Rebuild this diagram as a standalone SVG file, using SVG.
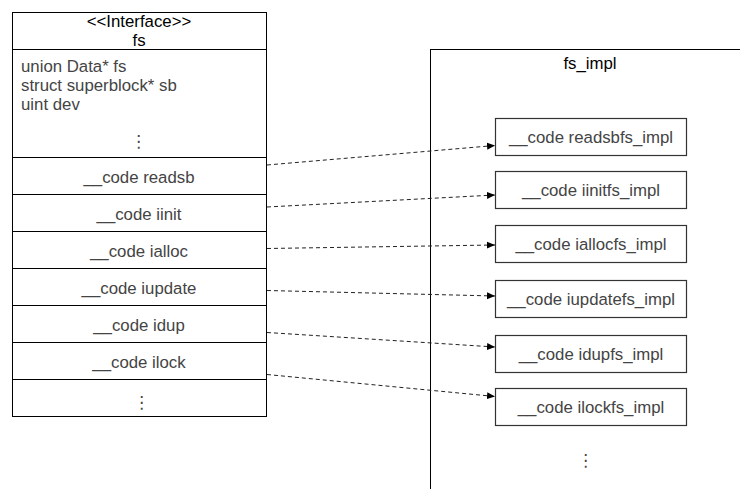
<svg xmlns="http://www.w3.org/2000/svg" width="740" height="489" viewBox="0 0 740 489">
<style>
.t{font-family:"Liberation Sans","DejaVu Sans",sans-serif;font-size:16.8px;fill:#444;}
.h{fill:#000;text-anchor:middle;}
.c{text-anchor:middle;}
.box{fill:#fff;stroke:#000;stroke-width:1;}
.ibox{fill:#fff;stroke:#333;stroke-width:1.2;}
.ln{stroke:#000;stroke-width:1;}
.conn{fill:none;stroke:#222;stroke-width:1;stroke-dasharray:4 3;marker-end:url(#ah);}
</style>
<defs>
<marker id="ah" markerWidth="8" markerHeight="8" refX="8" refY="4" orient="auto" markerUnits="userSpaceOnUse">
<path d="M0,0.5 L8,4 L0,7.5 Z" fill="#000"/>
</marker>
</defs>
<rect width="740" height="489" fill="#fff"/>
<g id="fs">
<rect class="box" x="12.5" y="12.5" width="254" height="404"/>
<line class="ln" x1="12.5" y1="49.5" x2="266.5" y2="49.5"/>
<text class="t h" x="139" y="27">&lt;&lt;Interface&gt;&gt;</text>
<text class="t h" x="139" y="46">fs</text>
<text class="t" x="21" y="72">union Data* fs</text>
<text class="t" x="21" y="91">struct superblock* sb</text>
<text class="t" x="21" y="110">uint dev</text>
<text class="t c" x="139" y="147">⋮</text>
<line class="ln" x1="12.5" y1="157.5" x2="266.5" y2="157.5"/>
<text class="t c" x="139" y="183">__code readsb</text>
<line class="ln" x1="12.5" y1="194.5" x2="266.5" y2="194.5"/>
<text class="t c" x="139" y="220">__code iinit</text>
<line class="ln" x1="12.5" y1="231.5" x2="266.5" y2="231.5"/>
<text class="t c" x="139" y="257">__code ialloc</text>
<line class="ln" x1="12.5" y1="268.5" x2="266.5" y2="268.5"/>
<text class="t c" x="139" y="294">__code iupdate</text>
<line class="ln" x1="12.5" y1="305.5" x2="266.5" y2="305.5"/>
<text class="t c" x="139" y="331">__code idup</text>
<line class="ln" x1="12.5" y1="342.5" x2="266.5" y2="342.5"/>
<text class="t c" x="139" y="368">__code ilock</text>
<line class="ln" x1="12.5" y1="379.5" x2="266.5" y2="379.5"/>
<text class="t c" x="142" y="408">⋮</text>
</g>
<g id="fs_impl">
<rect class="box" x="430.5" y="49.5" width="330" height="460"/>
<text class="t h" x="590" y="69">fs_impl</text>
<text class="t c" x="586" y="466">⋮</text>
</g>
<g id="readsbfs_impl">
<rect class="ibox" x="495.5" y="118.5" width="191" height="37"/>
<text class="t c" x="591" y="143">__code readsbfs_impl</text>
</g>
<g id="iinitfs_impl">
<rect class="ibox" x="495.5" y="171.5" width="191" height="37"/>
<text class="t c" x="591" y="196">__code iinitfs_impl</text>
</g>
<g id="iallocfs_impl">
<rect class="ibox" x="495.5" y="225.5" width="191" height="37"/>
<text class="t c" x="591" y="250">__code iallocfs_impl</text>
</g>
<g id="iupdatefs_impl">
<rect class="ibox" x="495.5" y="280.5" width="191" height="37"/>
<text class="t c" x="591" y="305">__code iupdatefs_impl</text>
</g>
<g id="idupfs_impl">
<rect class="ibox" x="495.5" y="335.5" width="191" height="37"/>
<text class="t c" x="591" y="360">__code idupfs_impl</text>
</g>
<g id="ilockfs_impl">
<rect class="ibox" x="495.5" y="388.5" width="191" height="37"/>
<text class="t c" x="591" y="413">__code ilockfs_impl</text>
</g>
<g id="connectors">
<line class="conn" x1="267" y1="165" x2="495" y2="145.5"/>
<line class="conn" x1="267" y1="207" x2="495" y2="195"/>
<line class="conn" x1="267" y1="248.5" x2="495" y2="245"/>
<line class="conn" x1="267" y1="290.5" x2="495" y2="296"/>
<line class="conn" x1="267" y1="332.5" x2="495" y2="347"/>
<line class="conn" x1="267" y1="374.5" x2="495" y2="396.5"/>
</g>
</svg>
